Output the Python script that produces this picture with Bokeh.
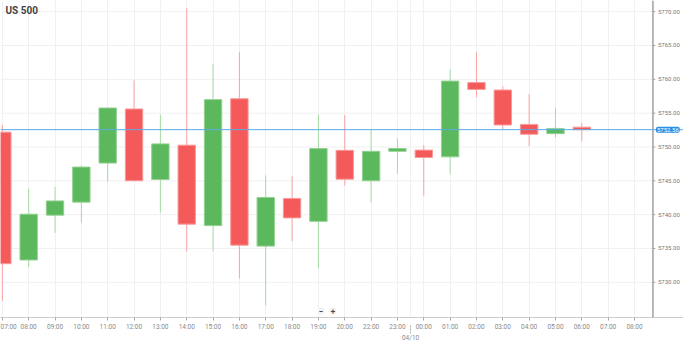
from bokeh.plotting import figure
from bokeh.models import (LinearAxis, FixedTicker, Span, Label, Range1d, ColumnDataSource)
from bokeh.core.properties import value
from bokeh.embed import file_html
from bokeh.resources import INLINE

title = "US 500"
day_label = "04/10"
hours = ["07:00", "08:00", "09:00", "10:00", "11:00", "12:00", "13:00", "14:00",
         "15:00", "16:00", "17:00", "18:00", "19:00", "20:00", "22:00", "23:00",
         "00:00", "01:00", "02:00", "03:00", "04:00", "05:00", "06:00", "07:00", "08:00"]
opens = [5752.19, 5733.30, 5739.93, 5741.85, 5747.62, 5755.62, 5745.19, 5750.27,
         5738.38, 5757.13, 5735.35, 5742.40, 5739.01, 5749.50, 5745.01, 5749.36,
         5749.54, 5748.54, 5759.52, 5758.42, 5753.34, 5751.97, 5752.93]
highs = [5753.25, 5743.82, 5744.09, 5747.30, 5755.90, 5759.84, 5754.80, 5770.51,
         5762.27, 5764.00, 5745.79, 5745.70, 5754.80, 5754.72, 5752.56, 5751.28,
         5750.27, 5761.49, 5764.00, 5758.97, 5757.82, 5755.76, 5753.57]
lows = [5727.25, 5732.28, 5737.32, 5738.79, 5744.87, 5745.00, 5740.30, 5734.58,
        5734.58, 5730.59, 5726.57, 5736.09, 5732.06, 5744.32, 5741.81, 5746.02,
        5742.81, 5746.02, 5757.33, 5752.65, 5750.13, 5751.37, 5750.82]
closes = [5732.75, 5740.07, 5742.03, 5747.03, 5755.76, 5745.01, 5750.46, 5738.60,
          5757.00, 5735.49, 5742.54, 5739.52, 5749.77, 5745.24, 5749.36, 5749.77,
          5748.44, 5759.74, 5758.51, 5753.25, 5751.88, 5752.74, 5752.56]
current_price = 5752.56
price_ticks = [5730, 5735, 5740, 5745, 5750, 5755, 5760, 5765, 5770]

# view extents
x_min, x_axis, x_max = -0.07, 24.7, 25.86
y_min, y_max = 5724.8, 5771.65

n = len(opens)
up = [c >= o for o, c in zip(opens, closes)]
src = ColumnDataSource(dict(
    x=list(range(n)),
    top=[max(o, c) for o, c in zip(opens, closes)],
    bottom=[min(o, c) for o, c in zip(opens, closes)],
    high=highs, low=lows,
    fill=["#5cb85c" if u else "#f55a5a" for u in up],
    line=["#93d193" if u else "#f99a9a" for u in up],
    wick=["#a6dba6" if u else "#f9a3a3" for u in up],
))

p = figure(width=683, height=344, output_backend="svg", toolbar_location=None,
           x_range=Range1d(x_min, x_max), y_range=Range1d(y_min, y_max),
           y_axis_location=None, min_border_left=0, min_border_top=0,
           min_border_right=0, min_border_bottom=0, outline_line_color=None)

# horizontal grid lines (end at the price axis)
p.ygrid.visible = False
p.segment(x0=x_min, x1=x_axis, y0=price_ticks, y1=price_ticks, line_color="#f0f0f0", line_width=1)

# vertical grid
p.xgrid.ticker = FixedTicker(ticks=list(range(len(hours))) + [15.5])
p.xgrid.grid_line_color = "#f0f0f0"

# candles
p.segment(x0="x", x1="x", y0="low", y1="high", line_color="wick", line_width=1, source=src)
p.vbar(x="x", width=0.66, top="top", bottom="bottom", fill_color="fill",
       line_color="line", line_width=1, source=src)

# x axis
xa = p.xaxis[0]
xa.ticker = FixedTicker(ticks=list(range(len(hours))))
xa.major_label_overrides = {i: h for i, h in enumerate(hours)}
xa.axis_line_color = "#cccccc"
xa.major_tick_line_color = "#aaaaaa"
xa.major_tick_in = 0
xa.major_tick_out = 3
xa.minor_tick_line_color = None
xa.major_label_text_font_size = "6.5px"
xa.major_label_text_color = "#8a8a8a"
xa.major_label_text_font = "Roboto"
xa.major_label_standoff = 2

xa2 = LinearAxis(ticker=FixedTicker(ticks=[15.5]), major_label_overrides={15.5: day_label})
xa2.axis_line_color = None
xa2.major_tick_line_color = "#aaaaaa"
xa2.major_tick_line_dash = "2 1"
xa2.major_tick_in = 9
xa2.major_tick_out = 0
xa2.minor_tick_line_color = None
xa2.major_label_text_font_size = "6.5px"
xa2.major_label_text_color = "#8a8a8a"
xa2.major_label_text_font = "Roboto"
xa2.major_label_standoff = 0
p.add_layout(xa2, "below")

# price axis on the right (drawn inside the extended frame)
p.add_layout(Span(location=x_axis, dimension="height", line_color="#a0a0a0", line_width=1.5))
p.segment(x0=x_axis, x1=x_axis + 0.09, y0=price_ticks, y1=price_ticks,
          line_color="#a0a0a0", line_width=1)
p.text(x=x_axis, y=price_ticks, text=[f"{v:.2f}" for v in price_ticks], x_offset=5,
       text_baseline="middle", text_align="left", text_font_size="6px",
       text_color="#777777", text_font=value("Roboto"))

# current price line and tag
p.add_layout(Span(location=current_price, dimension="width", line_color="#5aaae6", line_width=1))
p.add_layout(Label(x=x_axis, y=current_price, text=f"{current_price:.2f}", x_offset=3,
                   text_baseline="middle", text_align="left", text_font_size="6px",
                   text_color="white", text_font="Roboto",
                   background_fill_color="#2a90e6", border_radius=2, padding=1))

# title
p.add_layout(Label(x=x_min, y=y_max, x_offset=5, y_offset=-4, text=title,
                   text_baseline="top", text_align="left", text_font_size="10px",
                   text_font_style="bold", text_color="#444444", text_font="Roboto"))

# zoom buttons
p.add_layout(Label(x=12.1, y=y_min, y_offset=3, text="\u2212", text_baseline="bottom",
                   text_align="center", text_font_size="8px", text_font_style="bold",
                   text_color="#444444", text_font="Roboto",
                   background_fill_color="#f2f2f2", border_radius=2, padding=1))
p.add_layout(Label(x=12.55, y=y_min, y_offset=3, text="+", text_baseline="bottom",
                   text_align="center", text_font_size="8px", text_font_style="bold",
                   text_color="#444444", text_font="Roboto",
                   background_fill_color="#f2f2f2", border_radius=2, padding=1))

open("out.html", "w").write(file_html(p, INLINE))
